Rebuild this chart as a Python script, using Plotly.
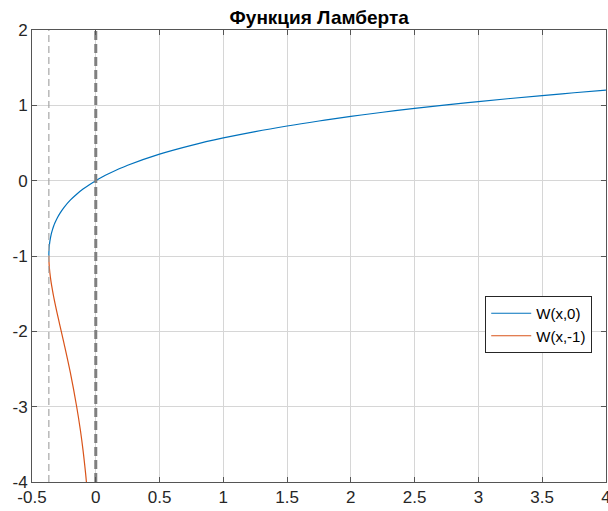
import plotly.graph_objects as go

# Principal branch W(x,0)
x_w0 = [-0.3679, -0.367, -0.365, -0.36, -0.35, -0.34, -0.33, -0.32, -0.30, -0.28,
        -0.25, -0.20, -0.15, -0.10, -0.05, 0.0, 0.05, 0.10, 0.25, 0.50, 0.75,
        1.00, 1.25, 1.50, 1.75, 2.00, 2.25, 2.50, 2.75, 3.00, 3.25, 3.50, 3.75, 4.00]
y_w0 = [-1.0, -0.9325, -0.880, -0.806, -0.716, -0.654, -0.602, -0.560, -0.489, -0.4305,
        -0.357, -0.259, -0.180, -0.112, -0.053, 0.0, 0.048, 0.091, 0.204, 0.352, 0.469,
        0.567, 0.652, 0.726, 0.792, 0.853, 0.908, 0.959, 1.006, 1.050, 1.091, 1.130, 1.167, 1.202]

# Lower branch W(x,-1)
x_wm1 = [-0.3679, -0.367, -0.365, -0.36, -0.35, -0.34, -0.33, -0.32, -0.30, -0.28,
         -0.25, -0.20, -0.15, -0.12, -0.10, -0.08, -0.0733]
y_wm1 = [-1.0, -1.0706, -1.1306, -1.2225, -1.349, -1.449, -1.541, -1.625, -1.781, -1.93,
         -2.153, -2.543, -2.998, -3.32, -3.577, -3.882, -4.0]

# reference vertical lines
x_branch = -0.3679
x_zero = 0.0

x_ticks = [-0.5, 0, 0.5, 1, 1.5, 2, 2.5, 3, 3.5, 4]
x_labels = ["-0.5", "0", "0.5", "1", "1.5", "2", "2.5", "3", "3.5", "4"]
y_ticks = [-4, -3, -2, -1, 0, 1, 2]
y_labels = ["-4", "-3", "-2", "-1", "0", "1", "2"]

fig = go.Figure()
fig.add_trace(go.Scatter(x=x_w0, y=y_w0, mode="lines", name="W(x,0)",
                         line=dict(color="#0072BD", width=1.2, shape="spline")))
fig.add_trace(go.Scatter(x=x_wm1, y=y_wm1, mode="lines", name="W(x,-1)",
                         line=dict(color="#D95319", width=1.2, shape="spline")))
fig.add_trace(go.Scatter(x=[x_branch, x_branch], y=[-4, 2], mode="lines", showlegend=False,
                         line=dict(color="#a6a6a6", width=1.2, dash="7px,4px")))
fig.add_trace(go.Scatter(x=[x_zero, x_zero], y=[-4, 2], mode="lines", showlegend=False,
                         line=dict(color="#7f7f7f", width=3, dash="9px,4px")))

axis_common = dict(showline=True, linecolor="#555555", linewidth=1, mirror="allticks",
                   ticks="inside", ticklen=5, tickcolor="#555555", automargin=False,
                   showgrid=True, gridcolor="#d6d6d6", gridwidth=1, zeroline=False,
                   ticklabeloverflow="allow",
                   tickfont=dict(family="Liberation Sans, Arial", size=17, color="#262626"))

fig.update_xaxes(range=[-0.5, 4.0005], tickvals=x_ticks, ticktext=x_labels, ticklabelstandoff=0, **axis_common)
fig.update_yaxes(range=[-4, 2], tickvals=y_ticks, ticktext=y_labels, ticklabelstandoff=0, **axis_common)

fig.update_layout(
    width=608, height=511,
    margin=dict(l=32, r=2, t=30, b=29, autoexpand=False),
    paper_bgcolor="white", plot_bgcolor="white",
    title=dict(text="<b>Функция Ламберта</b>", x=0.525, xanchor="center", y=0.966, yanchor="middle",
               font=dict(family="Liberation Sans, Arial", size=19, color="black")),
    legend=dict(x=0.976, xanchor="right", y=0.4115, yanchor="top",
                bgcolor="white", bordercolor="#262626", borderwidth=1,
                font=dict(family="Liberation Sans, Arial", size=15, color="black"),
                tracegroupgap=0, itemwidth=40),
    showlegend=True,
)

fig.write_html("out.html", config={"displayModeBar": False},
               post_script="document.body.style.margin='0';document.body.style.overflow='hidden';")
